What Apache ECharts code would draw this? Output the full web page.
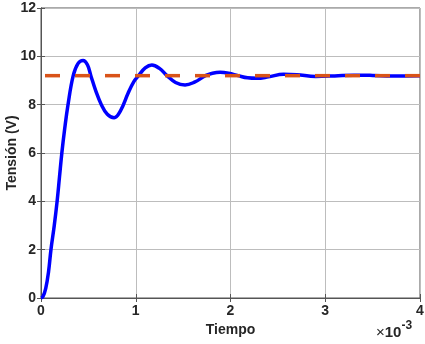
<!DOCTYPE html>
<html>
<head>
<meta charset="utf-8">
<script src="https://cdn.jsdelivr.net/npm/echarts@6/dist/echarts.min.js"></script>
<style>
html,body{margin:0;padding:0;background:#fff;}
#chart{width:425px;height:344px;}
</style>
</head>
<body>
<div id="chart"></div>
<script>
// time in units of 1e-3 s
var timeMs = [0, 0.02, 0.05, 0.08, 0.105, 0.14, 0.17, 0.195, 0.22, 0.25, 0.285, 0.34, 0.39, 0.444, 0.49, 0.526, 0.58, 0.637, 0.70, 0.772, 0.84, 0.92, 0.98, 1.03, 1.10, 1.17, 1.25, 1.33, 1.42, 1.52, 1.62, 1.735, 1.81, 1.89, 1.98, 2.08, 2.18, 2.28, 2.40, 2.56, 2.70, 2.90, 3.10, 3.30, 3.50, 3.70, 4.00];
var voltage = [0, 0.05, 0.4, 1.1, 2.0, 3.0, 4.0, 5.0, 6.0, 7.0, 8.0, 9.2, 9.7, 9.83, 9.65, 9.2, 8.55, 8.0, 7.6, 7.46, 7.75, 8.48, 8.95, 9.2, 9.52, 9.64, 9.5, 9.2, 8.92, 8.81, 8.93, 9.2, 9.3, 9.34, 9.3, 9.2, 9.11, 9.09, 9.15, 9.26, 9.24, 9.17, 9.19, 9.22, 9.21, 9.19, 9.2];
var refTime = [0, 4];
var refValue = [9.2, 9.2];
var xTicks = [0, 1, 2, 3, 4];
var yTicks = [0, 2, 4, 6, 8, 10, 12];
var xTitle = 'Tiempo';
var yTitle = 'Tensión (V)';

var chart = echarts.init(document.getElementById('chart'));
var font = 'Liberation Sans, Arial, Helvetica, sans-serif';
var axisColor = '#555555';
var txtColor = '#262626';

function zip(a, b){ return a.map(function(v,i){ return [v, b[i]]; }); }

var option = {
  animation: false,
  backgroundColor: '#ffffff',
  grid: {left: 41, right: 5, top: 8, bottom: 46, containLabel: false, outerBoundsMode: 'none', show: true, borderColor: axisColor, borderWidth: 1, backgroundColor: 'transparent'},
  xAxis: [{
    type: 'value', min: xTicks[0], max: xTicks[xTicks.length-1], interval: 1,
    name: xTitle, nameLocation: 'middle', nameGap: 25, nameMoveOverlap: false,
    nameTextStyle: {fontFamily: font, fontSize: 14, fontWeight: 'bold', color: txtColor},
    axisLine: {show: true, lineStyle: {color: axisColor, width: 1}},
    axisTick: {show: true, inside: true, length: 4, lineStyle: {color: axisColor}},
    axisLabel: {margin: 6, fontFamily: font, fontSize: 14, fontWeight: 'bold', color: txtColor},
    splitLine: {show: true, lineStyle: {color: '#bdbdbd', width: 1}}
  }, {
    type: 'value', position: 'top', min: xTicks[0], max: xTicks[xTicks.length-1], interval: 1,
    axisLine: {show: true, lineStyle: {color: axisColor}},
    axisTick: {show: true, inside: true, length: 4, lineStyle: {color: axisColor}},
    axisLabel: {show: false}, splitLine: {show: false}
  }],
  yAxis: [{
    type: 'value', min: yTicks[0], max: yTicks[yTicks.length-1], interval: 2,
    name: yTitle, nameLocation: 'middle', nameGap: 22, nameMoveOverlap: false,
    nameTextStyle: {fontFamily: font, fontSize: 14, fontWeight: 'bold', color: txtColor},
    axisLine: {show: true, lineStyle: {color: axisColor, width: 1}},
    axisTick: {show: true, inside: true, length: 4, lineStyle: {color: axisColor}},
    axisLabel: {margin: 5, fontFamily: font, fontSize: 14, fontWeight: 'bold', color: txtColor},
    splitLine: {show: true, lineStyle: {color: '#bdbdbd', width: 1}}
  }, {
    type: 'value', position: 'right', min: yTicks[0], max: yTicks[yTicks.length-1], interval: 2,
    axisLine: {show: true, lineStyle: {color: axisColor}},
    axisTick: {show: true, inside: true, length: 4, lineStyle: {color: axisColor}},
    axisLabel: {show: false}, splitLine: {show: false}
  }],
  series: [{
    type: 'line', data: zip(timeMs, voltage), smooth: 0.4, showSymbol: false,
    lineStyle: {color: '#0000ff', width: 3.5}, z: 3
  }, {
    type: 'line', data: zip(refTime, refValue), showSymbol: false,
    lineStyle: {color: '#d95319', width: 3.5, type: [15, 15], dashOffset: 26}, z: 4
  }],
  graphic: [{
    type: 'text', left: 376, top: 320,
    style: {
      text: '{x|×}{b|10}{s|-3}',
      rich: {
        x: {fontFamily: font, fontSize: 15, fill: txtColor, verticalAlign: 'bottom', lineHeight: 20},
        b: {fontFamily: font, fontSize: 15, fontWeight: 'bold', fill: txtColor, verticalAlign: 'bottom', lineHeight: 20},
        s: {fontFamily: font, fontSize: 12, fontWeight: 'bold', fill: txtColor, verticalAlign: 'top', lineHeight: 20}
      }
    }
  }]
};
chart.setOption(option);
</script>
</body>
</html>
